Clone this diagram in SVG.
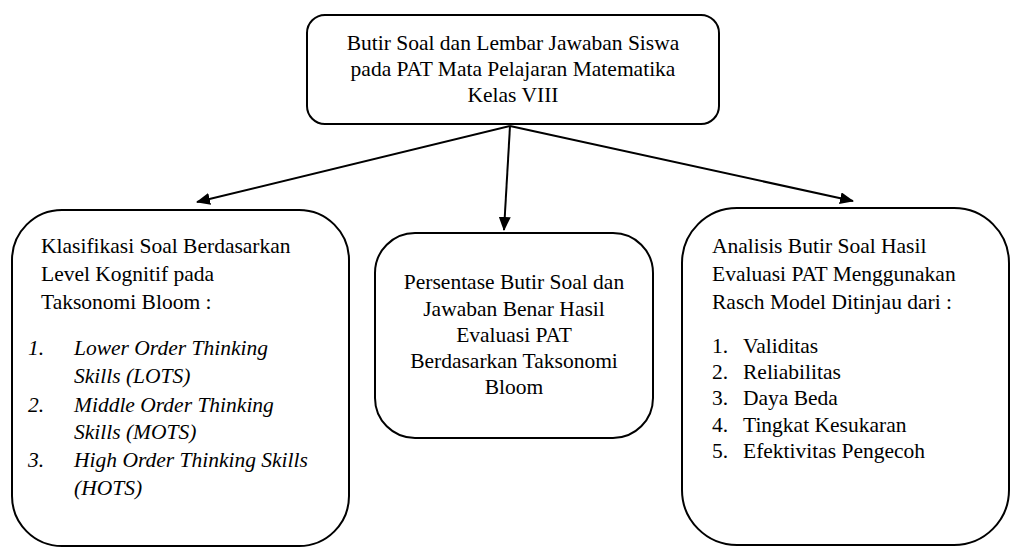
<svg xmlns="http://www.w3.org/2000/svg" width="1011" height="547" viewBox="0 0 1011 547">
<style>
.box{fill:#fff;stroke:#000;stroke-width:2}
.t{font-family:'Liberation Serif','Times New Roman',Times,'DejaVu Serif',serif;font-size:21.5px;fill:#000}
.c{text-anchor:middle}
.i{font-style:italic}
.con{stroke:#000;stroke-width:2;fill:none}
</style>
<defs>
<marker id="ah" markerUnits="userSpaceOnUse" markerWidth="14" markerHeight="12" refX="13" refY="6" orient="auto">
<path d="M0,0 L14,6 L0,12 z" fill="#000"/>
</marker>
</defs>
<rect width="1011" height="547" fill="#fff"/>
<g id="connectors">
<line class="con" x1="510" y1="126" x2="197" y2="202" marker-end="url(#ah)"/>
<line class="con" x1="510" y1="126" x2="504" y2="230" marker-end="url(#ah)"/>
<line class="con" x1="510" y1="126" x2="853" y2="201" marker-end="url(#ah)"/>
</g>
<g id="top">
<rect class="box" x="307" y="15" width="412" height="109" rx="18"/>
<text class="t c" x="513" y="50">Butir Soal dan Lembar Jawaban Siswa</text>
<text class="t c" x="513" y="76">pada PAT Mata Pelajaran Matematika</text>
<text class="t c" x="513" y="102">Kelas VIII</text>
</g>
<g id="left">
<rect class="box" x="12" y="210" width="337" height="336" rx="50"/>
<text class="t" x="41" y="253">Klasifikasi Soal Berdasarkan</text>
<text class="t" x="41" y="281">Level Kognitif pada</text>
<text class="t" x="41" y="309">Taksonomi Bloom :</text>
<text class="t i" x="28" y="355">1.</text><text class="t i" x="74" y="355">Lower Order Thinking</text>
<text class="t i" x="74" y="383">Skills (LOTS)</text>
<text class="t i" x="28" y="412">2.</text><text class="t i" x="74" y="412">Middle Order Thinking</text>
<text class="t i" x="74" y="439">Skills (MOTS)</text>
<text class="t i" x="28" y="467">3.</text><text class="t i" x="74" y="467">High Order Thinking Skills</text>
<text class="t i" x="74" y="495">(HOTS)</text>
</g>
<g id="middle">
<rect class="box" x="375" y="233" width="278" height="205" rx="40"/>
<text class="t c" x="514" y="289">Persentase Butir Soal dan</text>
<text class="t c" x="514" y="316">Jawaban Benar Hasil</text>
<text class="t c" x="514" y="342">Evaluasi PAT</text>
<text class="t c" x="514" y="368">Berdasarkan Taksonomi</text>
<text class="t c" x="514" y="394">Bloom</text>
</g>
<g id="right">
<rect class="box" x="682" y="208" width="327" height="337" rx="55"/>
<text class="t" x="712" y="253">Analisis Butir Soal Hasil</text>
<text class="t" x="712" y="281">Evaluasi PAT Menggunakan</text>
<text class="t" x="712" y="309">Rasch Model Ditinjau dari :</text>
<text class="t" x="712" y="353">1.</text><text class="t" x="743" y="353">Validitas</text>
<text class="t" x="712" y="379">2.</text><text class="t" x="743" y="379">Reliabilitas</text>
<text class="t" x="712" y="405">3.</text><text class="t" x="743" y="405">Daya Beda</text>
<text class="t" x="712" y="432">4.</text><text class="t" x="743" y="432">Tingkat Kesukaran</text>
<text class="t" x="712" y="458">5.</text><text class="t" x="743" y="458">Efektivitas Pengecoh</text>
</g>
</svg>
